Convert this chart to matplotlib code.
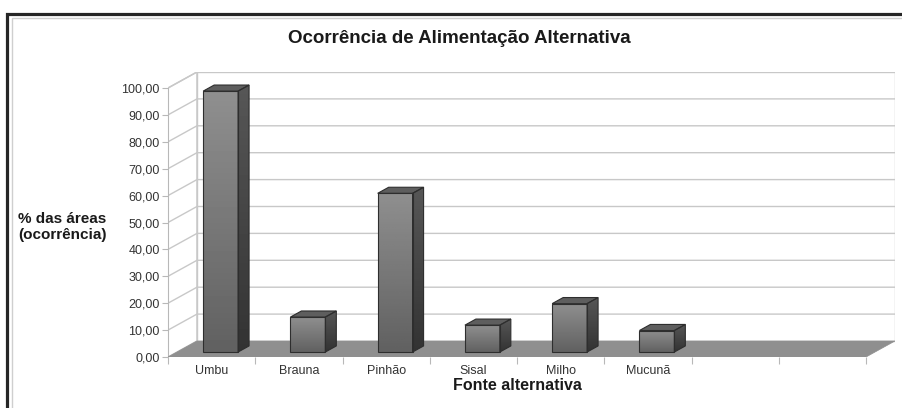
import numpy as np
import matplotlib
matplotlib.use('Agg')
from matplotlib import pyplot as plt
from matplotlib.patches import Polygon, Rectangle
from matplotlib.transforms import blended_transform_factory

plt.rcParams['font.family'] = ['Liberation Sans', 'DejaVu Sans']

categories = ['Umbu', 'Brauna', 'Pinhão', 'Sisal', 'Milho', 'Mucunã', '', '']
values = [97.0, 13.0, 59.0, 10.0, 18.0, 8.0]
y_ticks = [0, 10, 20, 30, 40, 50, 60, 70, 80, 90, 100]

W, H = 902, 408
# pseudo-3d depth offset, in data units
DX, DY = 0.332, 5.95
D0, D1 = 0.31, 0.69
BAR_W = 0.4
n = len(categories)

fig = plt.figure(figsize=(W / 100, H / 100), dpi=100)
fig.patch.set_facecolor('white')

# outer frame (scanned look)
fig.add_artist(Rectangle((6.5 / W, -0.1), 1.2, 1 - 13.5 / H + 0.1,
                         transform=fig.transFigure, fill=False,
                         ec='#262626', lw=2.3))
fig.add_artist(Rectangle((11.5 / W, -0.1), 1.2, 1 - 17.5 / H + 0.1,
                         transform=fig.transFigure, fill=False,
                         ec='#cfcfcf', lw=1.0))

ax = fig.add_axes([168 / W, (H - 357) / H, (895 - 168) / W, (357 - 72) / H])
ax.set_xlim(0, n + DX)
ax.set_ylim(0, 100 + DY)
ax.set_facecolor('none')
for s in ('top', 'right', 'bottom'):
    ax.spines[s].set_visible(False)
ax.spines['left'].set_bounds(0, 100)
ax.spines['left'].set_color('#b8b8b8')

grid_c = '#c8c8c8'
# left and back walls
ax.add_patch(Polygon([(0, 0), (DX, DY), (DX, 100 + DY), (0, 100)],
                     closed=True, fc='white', ec=grid_c, lw=1.0, zorder=1))
ax.add_patch(Polygon([(DX, DY), (n + DX, DY), (n + DX, 100 + DY), (DX, 100 + DY)],
                     closed=True, fc='white', ec=grid_c, lw=1.0, zorder=1))
for v in y_ticks[1:]:
    ax.plot([0, DX, n + DX], [v, v + DY, v + DY], color=grid_c, lw=1.0,
            zorder=2)

# floor
ax.add_patch(Polygon([(0, 0), (n, 0), (n + DX, DY), (DX, DY)], closed=True,
                     fc='#8f8f8f', ec='#8f8f8f', lw=0.5, zorder=3))

# bars
ox, oy = (D1 - D0) * DX, (D1 - D0) * DY
grad = np.linspace(0, 1, 64).reshape(-1, 1)
for i, v in enumerate(values):
    x0 = i + 0.5 - BAR_W / 2 + D0 * DX
    x1 = x0 + BAR_W
    y0 = D0 * DY
    y1 = y0 + v
    front = Polygon([(x0, y0), (x1, y0), (x1, y1), (x0, y1)], closed=True,
                    fc='none', ec='#2e2e2e', lw=0.8, zorder=6)
    side = Polygon([(x1, y0), (x1 + ox, y0 + oy), (x1 + ox, y1 + oy), (x1, y1)],
                   closed=True, fc='none', ec='#2e2e2e', lw=0.8, zorder=6)
    top = Polygon([(x0, y1), (x1, y1), (x1 + ox, y1 + oy), (x0 + ox, y1 + oy)],
                  closed=True, fc='#5e5e5e', ec='#2e2e2e', lw=0.8, zorder=5)
    ax.add_patch(top)
    for poly, lo, hi in ((front, 0.38, 0.56), (side, 0.20, 0.34)):
        ax.add_patch(poly)
        ext = poly.get_path().get_extents()
        im = ax.imshow(lo + (hi - lo) * grad, cmap='gray', vmin=0, vmax=1,
                       extent=(ext.x0, ext.x1, ext.y0, ext.y1),
                       origin='lower', aspect='auto', zorder=4,
                       interpolation='bilinear')
        im.set_clip_path(poly)

ax.set_xlim(0, n + DX)
ax.set_ylim(0, 100 + DY)

# axes ticks
ax.set_yticks(y_ticks)
ax.set_yticklabels([f'{v:.2f}'.replace('.', ',') for v in y_ticks])
ax.tick_params(axis='y', length=4, color='#b8b8b8', labelsize=9,
               labelcolor='#333333', pad=2)
ax.set_xticks(range(n + 1))
ax.set_xticklabels([])
ax.set_xticks(np.arange(n) + 0.5, minor=True)
ax.set_xticklabels(categories, minor=True)
ax.tick_params(axis='x', which='major', length=5, color='#b8b8b8')
ax.tick_params(axis='x', which='minor', length=0, labelsize=9,
               labelcolor='#333333', pad=6)

fig.text(459 / W, 1 - 38.5 / H, 'Ocorrência de Alimentação Alternativa',
         ha='center', va='center', fontsize=13.5, fontweight='bold',
         color='#1a1a1a')
fig.text(18 / W, 1 - 227 / H, '% das áreas\n(ocorrência)', ha='left',
         va='center', fontsize=11, fontweight='bold', color='#1a1a1a',
         linespacing=1.25)
trans = blended_transform_factory(ax.transData, fig.transFigure)
ax.text(4, 1 - 386 / H, 'Fonte alternativa', transform=trans, ha='center',
        va='center', fontsize=11.5, fontweight='bold', color='#1a1a1a')

fig.savefig('out.png', dpi=100)
